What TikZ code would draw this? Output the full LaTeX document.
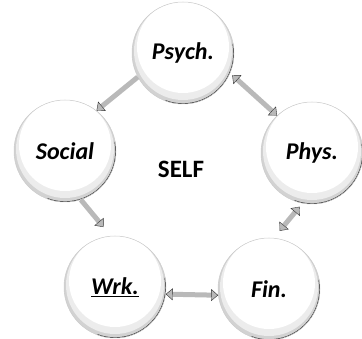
\documentclass[tikz,border=0pt]{standalone}
\usepackage{fontspec}
\setsansfont{Carlito}
\usetikzlibrary{arrows.meta}

\begin{document}
\begin{tikzpicture}[x=1pt, y=-1pt, line cap=round, line join=round,
    bubble/.style={circle, minimum size=102pt, inner sep=0pt, draw=gray!40, line width=0.5pt,
      fill=gray!35, font=\fontsize{24}{28}\selectfont\sffamily\bfseries\itshape,
      path picture={
        \fill[gray!15] ([yshift=2pt]path picture bounding box.center) circle (49);
        \fill[white] ([yshift=6pt]path picture bounding box.center) circle (46);
        \draw[gray!30!black, line width=1.4pt] (path picture bounding box.center) ++(-10:51) arc[start angle=-10, end angle=110, radius=51];
      }},
    link/.style={draw=gray!55, line width=5pt, line cap=butt},
    >={Triangle[width=12pt, length=7pt, fill=gray!55, color=gray!40!black, line width=0.4pt]}]
  %% ════ 五个圆（中心按原图量得）════
  \node[bubble] (psych)  at (183.0,53.0)  {Psych.};
  \node[bubble] (social) at (65.0,151.0)  {Social};
  \node[bubble] (phys)   at (312.0,153.0) {Phys.};
  \node[bubble] (wrk)    at (115.0,287.0) {\underline{Wrk.}};
  \node[bubble] (fin)    at (269.0,289.0) {Fin.};

  %% ════ 中心字 ════
  \node[font=\fontsize{25}{30}\selectfont\sffamily\bfseries] (self) at (181.0,169.0) {SELF};

  %% ════ 箭头（灰色粗箭头）════
  \draw[link, ->] (psych.208) -- (social.52);
  \draw[link, <->] ([shift={(4,-2)}]psych.-28) -- (phys.133);
  \draw[link, ->] (social.-72) -- ([yshift=10pt]wrk.103);
  \draw[link, <->] ([yshift=-4pt]phys.-104) -- ([yshift=8pt]fin.78);
  \draw[link, <->] (wrk.-8) -- (fin.187);

  % 钉死画布
  \pgfresetboundingbox
  \path[use as bounding box] (0,0) rectangle (362,339);
\end{tikzpicture}
\end{document}
